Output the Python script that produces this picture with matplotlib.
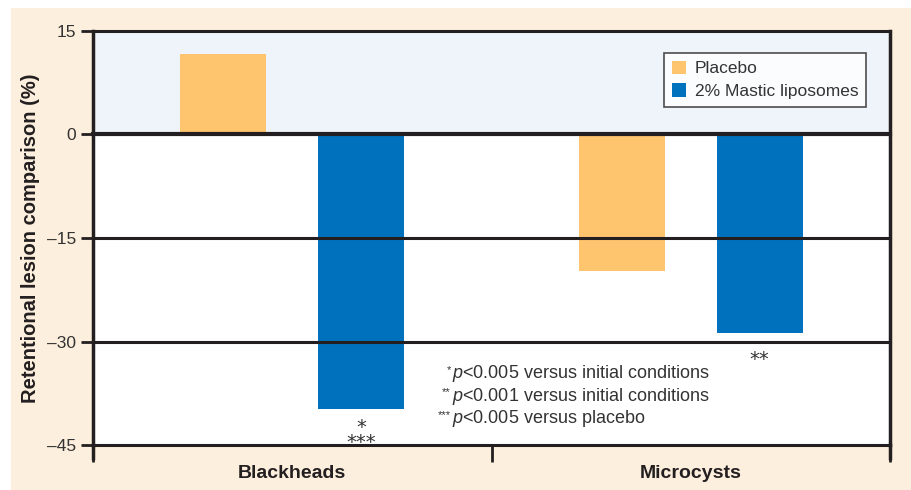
import matplotlib.pyplot as plt
from matplotlib.patches import Rectangle

# data
categories = ["Blackheads", "Microcysts"]
placebo = [11.7, -19.8]
mastic = [-39.8, -28.7]
yticks = [15, 0, -15, -30, -45]
ytick_labels = ["15", "0", "\u201315", "\u201330", "\u201345"]
series_names = ["Placebo", "2% Mastic liposomes"]
mastic_stars = ["*\n***", "**"]
footnotes = [
    ("*", "$\\it{p}$<0.005 versus initial conditions"),
    ("**", "$\\it{p}$<0.001 versus initial conditions"),
    ("***", "$\\it{p}$<0.005 versus placebo"),
]

c_placebo = "#FEC46E"
c_mastic = "#0071BD"
c_line = "#231F20"
c_cream = "#FDEFDD"
c_upper = "#EFF3FA"
c_text = "#333333"

plt.rcParams["font.family"] = ["Liberation Sans", "DejaVu Sans"]
plt.rcParams["mathtext.fontset"] = "custom"
plt.rcParams["mathtext.it"] = "Liberation Sans:italic"
plt.rcParams["mathtext.rm"] = "Liberation Sans"

fig = plt.figure(figsize=(9.11, 4.90), dpi=100)
fig.patches.append(Rectangle((11 / 911, 0), 1, 1 - 8 / 490, transform=fig.transFigure,
                             facecolor=c_cream, edgecolor="none", zorder=-10))

ax = fig.add_axes([93 / 911, 45 / 490, (890 - 93) / 911, (445 - 31) / 490])
ax.set_facecolor("white")
ax.set_xlim(-0.5, 1.5)
ax.set_ylim(-45, 15)
ax.axhspan(0, 15, color=c_upper, zorder=0)

off = 0.173
w = 0.216
x = [0, 1]
ax.bar([i - off for i in x], placebo, width=w, color=c_placebo, label=series_names[0], zorder=2)
ax.bar([i + off for i in x], mastic, width=w, color=c_mastic, label=series_names[1], zorder=2)

for yv in yticks:
    ax.axhline(yv, color=c_line, lw=3 if yv == 0 else 2.2, zorder=3, clip_on=False)

# significance marks under the mastic bars (second one sits below the -30 line)
first_gap = [1.3, 2.6]
for i, s in enumerate(mastic_stars):
    ax.text(x[i] + off, mastic[i] - first_gap[i], s, ha="center", va="top",
            fontsize=14, family="DejaVu Sans", color=c_text, linespacing=0.75, zorder=4)

ax.set_yticks(yticks)
ax.set_yticklabels(ytick_labels, fontsize=12.5, color=c_text)
ax.tick_params(axis="y", length=9, width=2, color=c_line, pad=3)
ax.set_xticks([-0.5, 0.5, 1.5])
ax.set_xticklabels([])
ax.tick_params(axis="x", length=12, width=2, color=c_line)
for i, c in enumerate(categories):
    ax.text(x[i], -0.068, c, transform=ax.get_xaxis_transform(), ha="center", va="center",
            fontsize=14, fontweight="bold", color=c_line)

for side in ["top", "bottom"]:
    ax.spines[side].set_visible(False)
for side in ["left", "right"]:
    ax.spines[side].set_color(c_line)
    ax.spines[side].set_linewidth(2.5)
    ax.spines[side].set_bounds(-45, 15)
# extend side lines down to the tick ends
for xv in [0, 1]:
    ax.plot([xv, xv], [0, -0.031], transform=ax.transAxes, color=c_line, lw=2.5,
            clip_on=False, zorder=5)

ax.set_ylabel("Retentional lesion comparison (%)", fontsize=14.5, fontweight="bold",
              color=c_line)
ax.yaxis.set_label_coords(-0.066, 0.5)

leg = ax.legend(loc="upper right", bbox_to_anchor=(0.970, 0.947), borderaxespad=0,
                fontsize=12.5, frameon=True, fancybox=False, handlelength=0.8,
                handleheight=0.8, handletextpad=0.5, borderpad=0.45, labelspacing=0.4)
leg.get_frame().set_edgecolor(c_line)
leg.get_frame().set_linewidth(1.2)
for t in leg.get_texts():
    t.set_color(c_text)
leg.set_zorder(6)

fx = 0.40
fy = [-34.6, -37.9, -41.2]
for (sup, txt), yv in zip(footnotes, fy):
    ax.text(fx, yv, txt, ha="left", va="center", fontsize=13, color=c_text, zorder=4)
    ax.text(fx - 0.002, yv + 0.5, sup, ha="right", va="center", fontsize=8,
            color=c_text, zorder=4)

fig.savefig("out.png", dpi=100)
